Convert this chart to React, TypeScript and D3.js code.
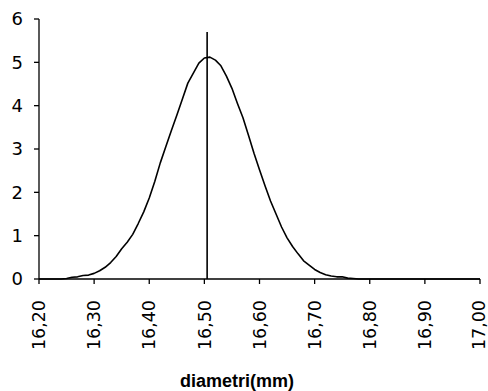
import React, { useEffect, useRef } from "react";
import * as d3 from "d3";

// diameters (mm), step 0.01
const diameters: number[] = d3.range(0, 81).map((i) => +(16.2 + i * 0.01).toFixed(2));

// frequency density, one per diameter
const density: number[] = [
  0, 0, 0, 0, 0, 0.01, 0.04, 0.05, 0.08, 0.09,
  0.13, 0.19, 0.27, 0.38, 0.52, 0.7, 0.85, 1.03, 1.28, 1.55,
  1.87, 2.25, 2.68, 3.05, 3.42, 3.78, 4.15, 4.52, 4.75, 4.98,
  5.1, 5.12, 5.05, 4.92, 4.68, 4.4, 4.05, 3.72, 3.32, 2.9,
  2.52, 2.15, 1.8, 1.5, 1.2, 0.95, 0.75, 0.58, 0.42, 0.32,
  0.22, 0.15, 0.1, 0.07, 0.05, 0.05, 0.02, 0.01, 0, 0,
  0, 0, 0, 0, 0, 0, 0, 0, 0, 0,
  0, 0, 0, 0, 0, 0, 0, 0, 0, 0,
  0,
];

const xTicks: number[] = [16.2, 16.3, 16.4, 16.5, 16.6, 16.7, 16.8, 16.9, 17.0];
const yTicks: number[] = [0, 1, 2, 3, 4, 5, 6];

// mean marker
const meanLine: number[] = [16.505, 5.7];

const xLabel = "diametri(mm)";

export default function App() {
  const width = 488;
  const height = 391;
  const svgRef = useRef<SVGSVGElement>(null);

  useEffect(() => {
    const svg = d3.select(svgRef.current);
    if (svg.empty()) return;
    svg.selectAll("*").remove();

    const x = d3.scaleLinear().domain([16.2, 17.0]).range([39, 480]);
    const y = d3.scaleLinear().domain([0, 6]).range([279, 19]);

    const g = svg.append("g");

    // y axis
    g.append("line")
      .attr("x1", x(16.2)).attr("x2", x(16.2))
      .attr("y1", y(0)).attr("y2", y(6))
      .attr("stroke", "#000").attr("stroke-width", 1.3);
    g.selectAll(".ytick")
      .data(yTicks)
      .enter()
      .append("line")
      .attr("x1", x(16.2) - 5).attr("x2", x(16.2))
      .attr("y1", (d) => y(d)).attr("y2", (d) => y(d))
      .attr("stroke", "#000").attr("stroke-width", 1.3);
    g.selectAll(".ylab")
      .data(yTicks)
      .enter()
      .append("text")
      .attr("x", 23)
      .attr("y", (d) => y(d))
      .attr("dy", "0.36em")
      .attr("text-anchor", "end")
      .style("font-family", "DejaVu Sans")
      .style("font-size", "18px")
      .text((d) => d);

    // x axis
    g.append("line")
      .attr("x1", x(16.2)).attr("x2", x(17.0))
      .attr("y1", y(0)).attr("y2", y(0))
      .attr("stroke", "#000").attr("stroke-width", 1.3);
    g.selectAll(".xtick")
      .data(xTicks)
      .enter()
      .append("line")
      .attr("x1", (d) => x(d)).attr("x2", (d) => x(d))
      .attr("y1", y(0)).attr("y2", y(0) + 5)
      .attr("stroke", "#000").attr("stroke-width", 1.3);
    g.selectAll(".xlab")
      .data(xTicks)
      .enter()
      .append("text")
      .attr("transform", (d) => `translate(${Math.min(x(d), 479)},300) rotate(-90)`)
      .attr("dy", "0.35em")
      .attr("text-anchor", "end")
      .style("font-family", "DejaVu Sans")
      .style("font-size", "17.5px")
      .text((d) => d.toFixed(2).replace(".", ","));

    // curve
    const line = d3
      .line<number>()
      .x((_, i) => x(diameters[i]))
      .y((d) => y(d));
    g.append("path")
      .datum(density)
      .attr("d", line)
      .attr("fill", "none")
      .attr("stroke", "#000")
      .attr("stroke-width", 1.6)
      .attr("stroke-linejoin", "round");

    // vertical mean line
    g.append("line")
      .attr("x1", x(meanLine[0])).attr("x2", x(meanLine[0]))
      .attr("y1", y(0)).attr("y2", y(meanLine[1]))
      .attr("stroke", "#000").attr("stroke-width", 1.6);

    g.append("text")
      .attr("x", 237)
      .attr("y", 387)
      .attr("text-anchor", "middle")
      .style("font-family", "Liberation Sans")
      .style("font-weight", "bold")
      .style("font-size", "18px")
      .text(xLabel);
  }, []);

  return (
    <svg
      ref={svgRef}
      width={width}
      height={height}
      style={{ position: "absolute", left: 0, top: 0, background: "#fff" }}
    ></svg>
  );
}
